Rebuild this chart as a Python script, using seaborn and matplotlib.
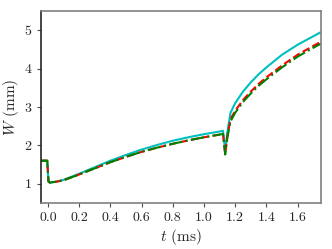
import numpy as np
import pandas as pd
import matplotlib
matplotlib.use('Agg')
import matplotlib.pyplot as plt
import seaborn as sns

# 读入数据
t_cyan = [-0.045, -0.004, 0.004, 0.012, 0.05, 0.1, 0.2, 0.3, 0.4, 0.5, 0.6, 0.7, 0.8, 0.9, 1.0,
          1.1, 1.122, 1.136, 1.15, 1.17, 1.2, 1.25, 1.3, 1.35, 1.4, 1.5, 1.6, 1.7, 1.75]
W_cyan = [1.6, 1.6, 1.06, 1.03, 1.05, 1.1, 1.26, 1.43, 1.6, 1.75, 1.89, 2.01, 2.12, 2.21, 2.29,
          2.36, 2.38, 1.85, 2.35, 2.85, 3.1, 3.4, 3.64, 3.85, 4.03, 4.36, 4.62, 4.84, 4.95]

t_red = [-0.045, -0.004, 0.004, 0.012, 0.05, 0.1, 0.2, 0.3, 0.4, 0.5, 0.6, 0.7, 0.8, 0.9, 1.0,
         1.1, 1.122, 1.136, 1.15, 1.17, 1.2, 1.25, 1.3, 1.35, 1.4, 1.5, 1.6, 1.7, 1.75]
W_red = [1.6, 1.6, 1.06, 1.03, 1.05, 1.09, 1.24, 1.4, 1.56, 1.7, 1.83, 1.94, 2.04, 2.13, 2.21,
         2.28, 2.3, 1.78, 2.25, 2.68, 2.9, 3.18, 3.4, 3.6, 3.77, 4.08, 4.36, 4.59, 4.7]

t_green = [-0.045, -0.004, 0.004, 0.012, 0.05, 0.1, 0.2, 0.3, 0.4, 0.5, 0.6, 0.7, 0.8, 0.9, 1.0,
           1.1, 1.122, 1.136, 1.15, 1.17, 1.2, 1.25, 1.3, 1.35, 1.4, 1.5, 1.6, 1.7, 1.75]
W_green = [1.6, 1.6, 1.06, 1.03, 1.05, 1.09, 1.24, 1.4, 1.56, 1.7, 1.83, 1.94, 2.04, 2.13, 2.21,
           2.28, 2.3, 1.76, 2.2, 2.62, 2.85, 3.13, 3.35, 3.55, 3.72, 4.03, 4.31, 4.54, 4.65]

xticks = [0.0, 0.2, 0.4, 0.6, 0.8, 1.0, 1.2, 1.4, 1.6]
yticks = [1, 2, 3, 4, 5]

sns.set_style('ticks')
plt.rcParams['font.family'] = 'serif'
plt.rcParams['font.serif'] = ['cmr10']
plt.rcParams['mathtext.fontset'] = 'cm'
plt.rcParams['axes.formatter.use_mathtext'] = True

fig = plt.figure(figsize=(3.32, 2.49), dpi=100)
ax = fig.add_axes([0.123, 0.185, 0.844, 0.771])

sns.lineplot(x=t_cyan, y=W_cyan, color='c', lw=1.5, ax=ax, estimator=None, sort=False)
sns.lineplot(x=t_red, y=W_red, color='r', lw=1.5, ls='--', ax=ax, estimator=None, sort=False)
sns.lineplot(x=t_green, y=W_green, color='g', lw=1.5, ls='-.', ax=ax, estimator=None, sort=False)

ax.set_xlim(-0.045, 1.75)
ax.set_ylim(0.5, 5.5)
ax.set_xticks(xticks)
ax.set_yticks(yticks)
ax.set_xticklabels(['%.1f' % v for v in xticks])
ax.set_yticklabels([str(v) for v in yticks])
ax.tick_params(labelsize=10, length=3, width=0.8, color='0.3')
ax.set_xlabel('$t$ (ms)', fontsize=11, labelpad=2)
ax.set_ylabel('$W$ (mm)', fontsize=11, labelpad=3)
for s in ['top', 'right', 'bottom']:
    ax.spines[s].set_color('0.5')
ax.spines['left'].set_color('0.15')
for s in ax.spines.values():
    s.set_linewidth(1.2)

plt.savefig('out.png', dpi=100)
